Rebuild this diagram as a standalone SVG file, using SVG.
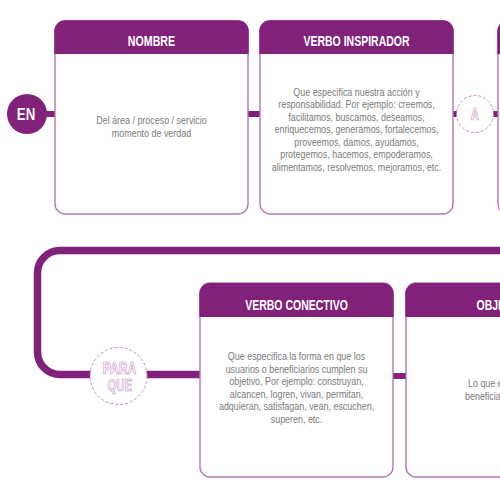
<svg xmlns="http://www.w3.org/2000/svg" width="500" height="500" viewBox="0 0 500 500">
<style>
.box{fill:#fff;stroke:#b676b3;stroke-width:1.4}
.hdr{fill:#82217a}
.title{font-family:"Liberation Sans",Arial,sans-serif;font-weight:bold;font-size:15px;fill:#fff;text-anchor:middle}
.body{font-family:"Liberation Sans",Arial,sans-serif;font-size:10.5px;fill:#7a7a7a;text-anchor:middle}
.bar{fill:#82217a}
.dash{fill:#fff;stroke:#c58ac2;stroke-width:1;stroke-dasharray:3 2}
.outl{font-family:"Liberation Sans",Arial,sans-serif;font-weight:bold;font-size:16.5px;fill:#fff;stroke:#c58ac2;stroke-width:0.7;text-anchor:middle}
</style>
<g id="connectors">
  <path d="M500 250.5 H60 A22.5 22.5 0 0 0 37.5 273 V352 A22.5 22.5 0 0 0 60 374.5 H200" fill="none" stroke="#82217a" stroke-width="7.5"/>
  <rect class="bar" x="44" y="111" width="12" height="6"/>
  <rect class="bar" x="247" y="111" width="14" height="6"/>
  <rect class="bar" x="452" y="111" width="6" height="6"/>
  <rect class="bar" x="493" y="111" width="6" height="6"/>
  <rect class="bar" x="392" y="373" width="15" height="6"/>
</g>
<g id="en">
  <circle cx="27" cy="114" r="20" fill="#82217a"/>
  <text class="title" transform="translate(26,120) scale(0.78,1)" style="font-size:17px">EN</text>
</g>
<g id="nombre">
  <rect class="box" x="55" y="21" width="193" height="193" rx="10"/>
  <path class="hdr" d="M54.3 54 V31 A10.7 10.7 0 0 1 65 20.3 H238 A10.7 10.7 0 0 1 248.7 31 V54 Z"/>
  <text class="title" transform="translate(151.5,45.5) scale(0.71,1)">NOMBRE</text>
  <g transform="translate(151.5,0) scale(0.85,1)">
    <text class="body"><tspan x="0" y="124.5">Del área / proceso / servicio</tspan><tspan x="0" y="137.5">momento de verdad</tspan></text>
  </g>
</g>
<g id="verbo-inspirador">
  <rect class="box" x="260" y="21" width="193" height="193" rx="10"/>
  <path class="hdr" d="M259.3 54 V31 A10.7 10.7 0 0 1 270 20.3 H443 A10.7 10.7 0 0 1 453.7 31 V54 Z"/>
  <text class="title" transform="translate(356.5,45.5) scale(0.7,1)">VERBO INSPIRADOR</text>
  <g transform="translate(356.5,0) scale(0.85,1)">
    <text class="body"><tspan x="0" y="96">Que especifica nuestra acción y</tspan><tspan x="0" y="108.5">responsabilidad. Por ejemplo: creemos,</tspan><tspan x="0" y="121">facilitamos, buscamos, deseamos,</tspan><tspan x="0" y="133.5">enriquecemos, generamos, fortalecemos,</tspan><tspan x="0" y="146">proveemos, damos, ayudamos,</tspan><tspan x="0" y="158.5">protegemos, hacemos, empoderamos,</tspan><tspan x="0" y="171">alimentamos, resolvemos, mejoramos, etc.</tspan></text>
  </g>
</g>
<g id="a">
  <circle class="dash" cx="475" cy="114" r="18.5"/>
  <text class="outl" transform="translate(475,120) scale(0.72,1)" style="font-size:16px">A</text>
</g>
<g id="box3">
  <rect class="box" x="498" y="21" width="193" height="193" rx="10"/>
  <path class="hdr" d="M497.3 54 V31 A10.7 10.7 0 0 1 508 20.3 H681 A10.7 10.7 0 0 1 691.7 31 V54 Z"/>
</g>
<g id="para-que">
  <circle class="dash" cx="118.5" cy="376" r="28.5"/>
  <text class="outl" transform="translate(119.5,374) scale(0.74,1)">PARA</text>
  <text class="outl" transform="translate(120,391) scale(0.68,1)">QUE</text>
</g>
<g id="verbo-conectivo">
  <rect class="box" x="200" y="283" width="193" height="194" rx="10"/>
  <path class="hdr" d="M199.3 317 V293.7 A10.7 10.7 0 0 1 210 283 H383 A10.7 10.7 0 0 1 393.7 293.7 V317 Z"/>
  <text class="title" transform="translate(296.5,309.5) scale(0.7,1)">VERBO CONECTIVO</text>
  <g transform="translate(296.5,0) scale(0.85,1)">
    <text class="body"><tspan x="0" y="360.5">Que especifica la forma en que los</tspan><tspan x="0" y="373">usuarios o beneficiarios cumplen su</tspan><tspan x="0" y="385.5">objetivo. Por ejemplo: construyan,</tspan><tspan x="0" y="398">alcancen, logren, vivan, permitan,</tspan><tspan x="0" y="410.5">adquieran, satisfagan, vean, escuchen,</tspan><tspan x="0" y="423.5">superen, etc.</tspan></text>
  </g>
</g>
<g id="objetivo">
  <rect class="box" x="406" y="283" width="193" height="194" rx="10"/>
  <path class="hdr" d="M405.3 317 V293.7 A10.7 10.7 0 0 1 416 283 H589 A10.7 10.7 0 0 1 599.7 293.7 V317 Z"/>
  <text class="title" transform="translate(503,309.5) scale(0.7,1)">OBJETIVO</text>
  <g transform="translate(468,0) scale(0.85,1)">
    <text class="body" style="text-anchor:start"><tspan x="0" y="387.5">Lo que esperan</tspan></text>
  </g>
  <g transform="translate(465,0) scale(0.85,1)">
    <text class="body" style="text-anchor:start"><tspan x="0" y="400">beneficiarios</tspan></text>
  </g>
</g>
</svg>
